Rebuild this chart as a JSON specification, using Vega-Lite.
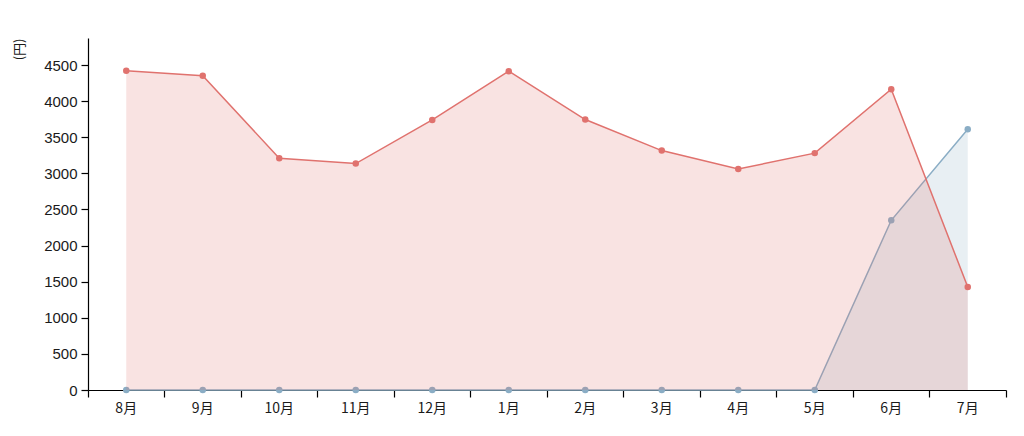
{
  "$schema": "https://vega.github.io/schema/vega-lite/v6.json",
  "width": 918,
  "height": 352,
  "autosize": {"type": "none"},
  "padding": {"left": 88, "top": 38, "right": 18, "bottom": 46},
  "background": "white",
  "config": {
    "view": {"stroke": null},
    "font": "Noto Sans CJK JP",
    "axis": {"domainColor": "#000", "tickColor": "#000", "labelColor": "#1a1a1a", "grid": false, "domainWidth": 1.2, "tickWidth": 1.2, "zindex": 1}
  },
  "data": {
    "values": [
      {"month": "8月", "series": "red", "value": 4420},
      {"month": "9月", "series": "red", "value": 4350},
      {"month": "10月", "series": "red", "value": 3210},
      {"month": "11月", "series": "red", "value": 3135},
      {"month": "12月", "series": "red", "value": 3740},
      {"month": "1月", "series": "red", "value": 4415},
      {"month": "2月", "series": "red", "value": 3745},
      {"month": "3月", "series": "red", "value": 3315},
      {"month": "4月", "series": "red", "value": 3060},
      {"month": "5月", "series": "red", "value": 3280},
      {"month": "6月", "series": "red", "value": 4165},
      {"month": "7月", "series": "red", "value": 1425},
      {"month": "8月", "series": "blue", "value": 0},
      {"month": "9月", "series": "blue", "value": 0},
      {"month": "10月", "series": "blue", "value": 0},
      {"month": "11月", "series": "blue", "value": 0},
      {"month": "12月", "series": "blue", "value": 0},
      {"month": "1月", "series": "blue", "value": 0},
      {"month": "2月", "series": "blue", "value": 0},
      {"month": "3月", "series": "blue", "value": 0},
      {"month": "4月", "series": "blue", "value": 0},
      {"month": "5月", "series": "blue", "value": 0},
      {"month": "6月", "series": "blue", "value": 2350},
      {"month": "7月", "series": "blue", "value": 3610}
    ]
  },
  "encoding": {
    "x": {
      "field": "month", "type": "ordinal", "bandPosition": 0.5,
      "sort": ["8月", "9月", "10月", "11月", "12月", "1月", "2月", "3月", "4月", "5月", "6月", "7月"],
      "scale": {"type": "band", "paddingInner": 0, "paddingOuter": 0},
      "axis": {"title": null, "labelAngle": 0, "bandPosition": 1, "tickExtra": true, "tickSize": 7, "labelPadding": 4, "labelFontSize": 14}
    },
    "y": {"field": "value", "type": "quantitative", "scale": {"domain": [0, 4874], "nice": false},
      "axis": {"title": "(円)", "values": [0, 500, 1000, 1500, 2000, 2500, 3000, 3500, 4000, 4500], "format": "d", "labelOverlap": false, "labelFont": "Liberation Sans", "tickSize": 7, "labelPadding": 4, "labelFontSize": 15, "titleAngle": -90, "titleX": -69, "titleY": 0, "titleAlign": "right", "titleBaseline": "middle", "titleFontSize": 13, "titleFontWeight": "normal", "titleColor": "#1a1a1a"}}
  },
  "layer": [
    {
      "transform": [{"filter": "datum.series === 'blue'"}],
      "layer": [
        {"mark": {"type": "area", "color": "#8aadc5", "opacity": 0.2}},
        {"mark": {"type": "line", "color": "#8aadc5", "strokeWidth": 1.5, "point": {"filled": true, "size": 42, "color": "#8aadc5", "opacity": 1}}}
      ]
    },
    {
      "transform": [{"filter": "datum.series === 'red'"}],
      "layer": [
        {"mark": {"type": "area", "color": "#e0726e", "opacity": 0.2}},
        {"mark": {"type": "line", "color": "#e0726e", "strokeWidth": 1.5, "point": {"filled": true, "size": 42, "color": "#e0726e", "opacity": 1}}}
      ]
    }
  ]
}
